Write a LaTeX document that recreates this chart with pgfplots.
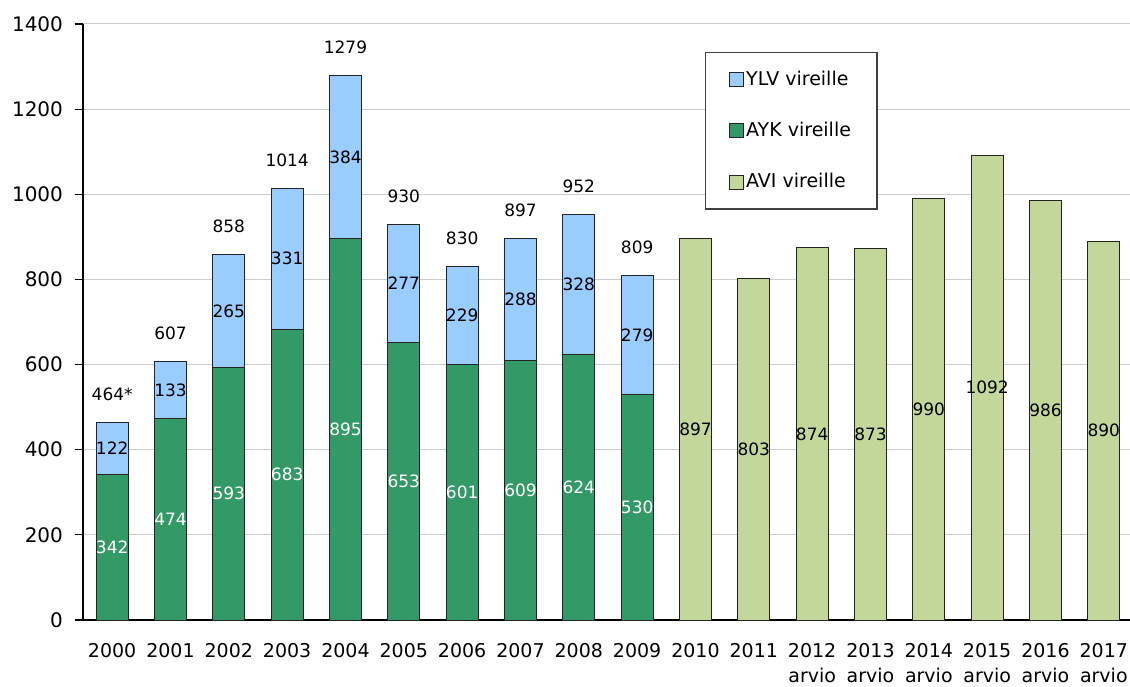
\documentclass[border=0pt]{standalone}
\usepackage{pgfplots}
\pgfplotsset{compat=1.18}
\usepackage{pgfplotstable}
\usepackage{fontspec}
\setmainfont{DejaVu Sans}
\definecolor{ayk}{RGB}{51,153,102}
\definecolor{ylv}{RGB}{153,204,255}
\definecolor{avi}{RGB}{196,215,155}
\definecolor{edge}{RGB}{35,35,35}

\pgfplotstableread{
x ayk ylv tot lab
0 342 122 464 464*
1 474 133 607 607
2 593 265 858 858
3 683 331 1014 1014
4 895 384 1279 1279
5 653 277 930 930
6 601 229 830 830
7 609 288 897 897
8 624 328 952 952
9 530 279 809 809
}\early
\pgfplotstableread{
x avi
10 897
11 803
12 874
13 873
14 990
15 1092
16 986
17 890
}\late

\begin{document}
\begin{tikzpicture}
\path[use as bounding box] (-41.5pt,-33pt) rectangle (523.5pt,310pt);
\begin{axis}[
  scale only axis, width=525pt, height=298pt,
  at={(0pt,0pt)}, anchor=south west,
  xmin=-0.5, xmax=17.5, ymin=0, ymax=1400,
  axis x line=bottom, axis y line=left,
  axis line style={-, black, line width=0.8pt},
  ytick={0,200,...,1400},
  ymajorgrids, grid style={gray!40, line width=0.5pt},
  tick align=outside, major tick length=4pt,
  y tick style={black, line width=0.6pt},
  xtick={0,...,17}, x tick style={draw=none},
  xticklabels={2000,2001,2002,2003,2004,2005,2006,2007,2008,2009,2010,2011,{2012\\arvio},{2013\\arvio},{2014\\arvio},{2015\\arvio},{2016\\arvio},{2017\\arvio}},
  xticklabel style={align=center, font=\fontsize{9.5}{12.6}\selectfont, yshift=-4pt},
  yticklabel style={font=\fontsize{10}{12}\selectfont, xshift=-2.5pt},
  /pgf/number format/assume math mode=true,
  /pgf/number format/set thousands separator={},
  legend cell align=left,
  legend image code/.code={\draw[#1] (0pt,-3.5pt) rectangle (7pt,3.5pt);},
  legend style={at={(0.592,0.953)}, anchor=north west, draw=black!75, line width=0.6pt,
    font=\fontsize{9.5}{11}\selectfont, row sep=13pt, inner xsep=12pt, inner ysep=7pt,
    nodes={inner xsep=1pt}},
]
\addplot[ybar, bar width=16pt, bar shift=0pt, fill=ylv, draw=edge, line width=0.5pt, forget plot] table[x=x,y=tot]{\early};
\addplot[ybar, bar width=16pt, bar shift=0pt, fill=ayk, draw=edge, line width=0.5pt, forget plot] table[x=x,y=ayk]{\early};
\addplot[ybar, bar width=16pt, bar shift=0pt, fill=avi, draw=edge, line width=0.5pt, forget plot] table[x=x,y=avi]{\late};

\addplot[draw=none, mark=none, forget plot, nodes near coords, point meta=explicit symbolic,
  nodes near coords style={anchor=center, text=white, font=\fontsize{8.5}{10}\selectfont}]
  table[x=x, y expr=\thisrow{ayk}/2, meta=ayk]{\early};
\addplot[draw=none, mark=none, forget plot, nodes near coords, point meta=explicit symbolic,
  nodes near coords style={anchor=center, text=black, font=\fontsize{8.5}{10}\selectfont}]
  table[x=x, y expr=\thisrow{ayk}+\thisrow{ylv}/2, meta=ylv]{\early};
\addplot[draw=none, mark=none, forget plot, nodes near coords, point meta=explicit symbolic,
  nodes near coords style={anchor=center, text=black, yshift=14pt, font=\fontsize{8.5}{10}\selectfont}]
  table[x=x, y=tot, meta=lab]{\early};
\addplot[draw=none, mark=none, forget plot, nodes near coords, point meta=explicit symbolic,
  nodes near coords style={anchor=center, text=black, font=\fontsize{8.5}{10}\selectfont}]
  table[x=x, y expr=\thisrow{avi}/2, meta=avi]{\late};

\addlegendimage{fill=ylv, draw=edge, line width=0.5pt}
\addlegendimage{fill=ayk, draw=edge, line width=0.5pt}
\addlegendimage{fill=avi, draw=edge, line width=0.5pt}
\legend{YLV vireille, AYK vireille, AVI vireille}
\end{axis}
\end{tikzpicture}
\end{document}
